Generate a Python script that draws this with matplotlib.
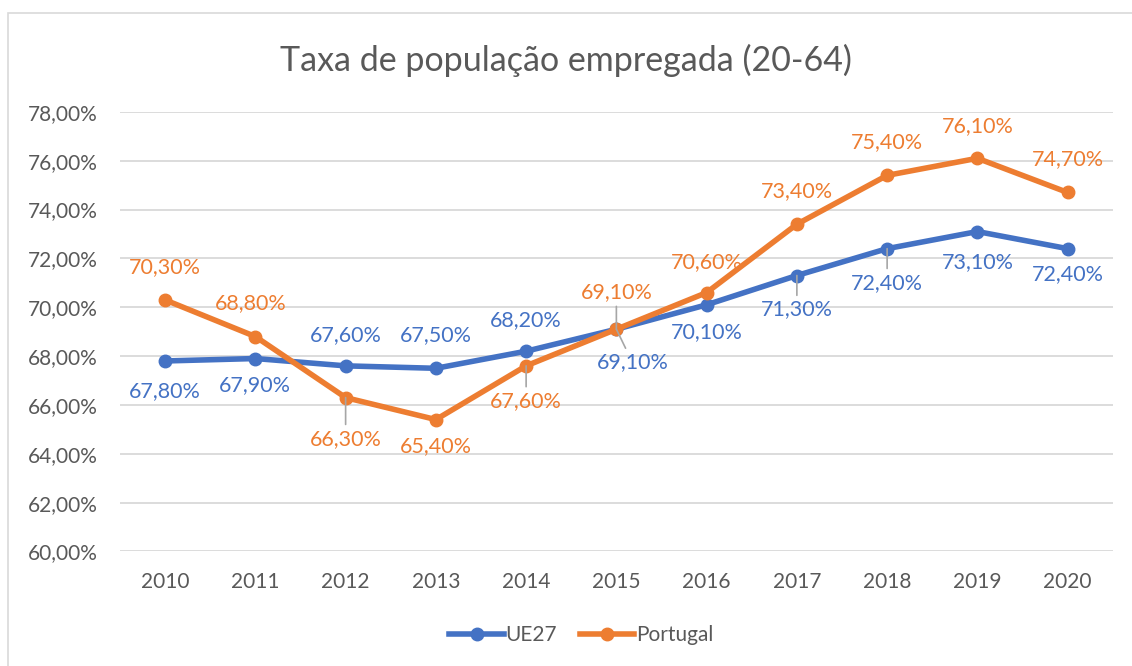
import matplotlib.pyplot as plt
from matplotlib.patches import Rectangle

# data
years = ['2010', '2011', '2012', '2013', '2014', '2015',
         '2016', '2017', '2018', '2019', '2020']
ue27 = [67.8, 67.9, 67.6, 67.5, 68.2, 69.1, 70.1, 71.3, 72.4, 73.1, 72.4]
portugal = [70.3, 68.8, 66.3, 65.4, 67.6, 69.1, 70.6, 73.4, 75.4, 76.1, 74.7]
y_ticks = [60, 62, 64, 66, 68, 70, 72, 74, 76, 78]

# label offsets in pixels (dx, dy), and which labels get a leader line
ue27_offsets = [(0, -30), (0, -27), (0, 31), (0, 33), (0, 31), (16, -33),
                (0, -27), (0, -34), (0, -34), (0, -31), (0, -25)]
ue27_leaders = [5, 7, 8]
pt_offsets = [(0, 33), (-5, 33), (0, -41), (0, -27), (0, -35), (0, 37),
              (0, 31), (0, 33), (0, 33), (0, 32), (0, 33)]
pt_leaders = [2, 4, 5]

blue = '#4472C4'
orange = '#ED7D31'
grey_text = '#595959'

plt.rcParams['font.family'] = ['Lato', 'DejaVu Sans']

fig = plt.figure(figsize=(11.32, 6.66), dpi=100)
ax = fig.add_axes([0.106, 0.172, 0.877, 0.66])

# chart border
fig.patches.append(Rectangle((8 / 1132, -0.01), 1.02, 1 - 13 / 666 + 0.01,
                             transform=fig.transFigure, fill=False,
                             edgecolor='#D9D9D9', linewidth=1.2))

x = list(range(len(years)))
ax.plot(x, ue27, color=blue, lw=4, marker='o', ms=9, label='UE27', zorder=3)
ax.plot(x, portugal, color=orange, lw=4, marker='o', ms=9, label='Portugal', zorder=4)


def add_labels(values, offsets, leaders, color):
    for i, v in enumerate(values):
        dx, dy = offsets[i]
        props = None
        if i in leaders:
            props = dict(arrowstyle='-', color='#A6A6A6', lw=1.2,
                         shrinkA=1, shrinkB=0)
        ax.annotate(f'{v:.2f}'.replace('.', ',') + '%', (i, v),
                    xytext=(dx, dy), textcoords='offset pixels',
                    ha='center', va='center', fontsize=15.5, color=color,
                    arrowprops=props, zorder=5)


add_labels(ue27, ue27_offsets, ue27_leaders, blue)
add_labels(portugal, pt_offsets, pt_leaders, orange)

ax.set_xlim(-0.5, len(years) - 0.5)
ax.set_ylim(60, 78)
ax.set_xticks(x)
ax.set_xticklabels(years)
ax.set_yticks(y_ticks)
ax.set_yticklabels([f'{t},00%' for t in y_ticks])
ax.tick_params(length=0, labelsize=15, colors=grey_text)
ax.tick_params(axis='x', pad=15)
ax.tick_params(axis='y', pad=16)
ax.grid(axis='y', color='#D9D9D9', lw=1.3)
ax.set_axisbelow(True)
for s in ax.spines.values():
    s.set_visible(False)

fig.text(0.5, 0.91, 'Taxa de população empregada (20-64)', ha='center',
         va='center', fontsize=24.5, color=grey_text)

ax.legend(loc='center', bbox_to_anchor=(0.465, -0.19), ncol=2, frameon=False,
          fontsize=15, labelcolor=grey_text, handlelength=2.6,
          handletextpad=0.1, columnspacing=1.1)

fig.savefig('out.png', dpi=100)
